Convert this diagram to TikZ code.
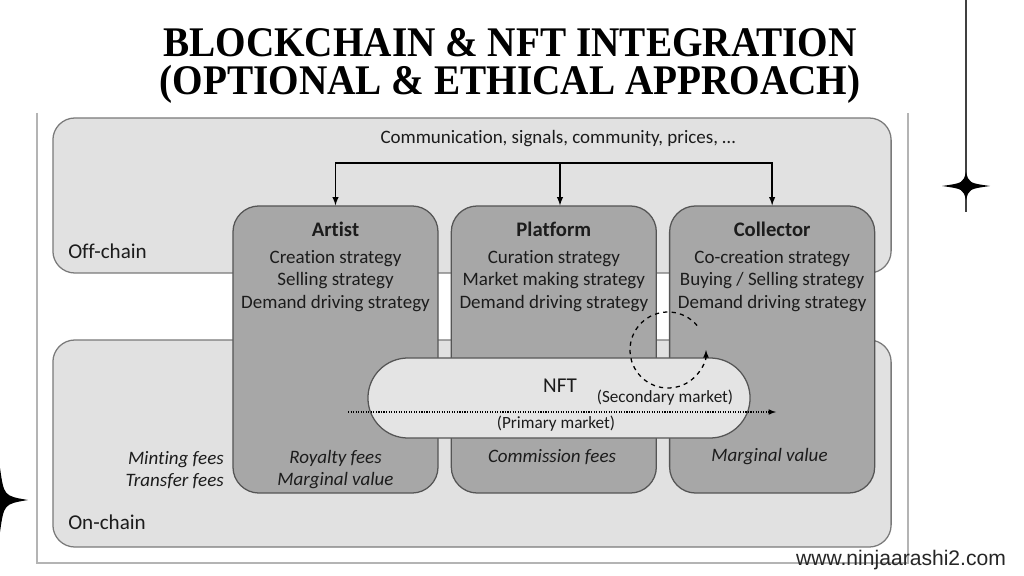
\documentclass[tikz,border=0pt]{standalone}
\usepackage{fontspec}
\setmainfont[Ligatures=NoCommon]{Carlito}
\newfontfamily\titlefont[FakeStretch=0.93]{Liberation Serif}
\newfontfamily\webfont{Liberation Sans}
\usetikzlibrary{positioning,arrows}

\definecolor{chainfill}{HTML}{E1E1E1}
\definecolor{chainline}{HTML}{7A7A7A}
\definecolor{rolefill}{HTML}{A7A7A7}
\definecolor{roleline}{HTML}{555555}
\definecolor{pillfill}{HTML}{E4E4E4}
\definecolor{frameline}{HTML}{B4B4B4}
\definecolor{ink}{HTML}{1C1C1C}

\begin{document}
\begin{tikzpicture}[
x=0.025cm,
y=-0.025cm,
chain/.style={
  draw=chainline,
  fill=chainfill,
  line width=0.9pt,
  rounded corners=0.55cm,
  minimum width=20.95cm
  },
role/.style={
  draw=roleline,
  fill=rolefill,
  line width=0.9pt,
  rounded corners=0.65cm,
  minimum width=5.125cm,
  minimum height=7.175cm
  },
txt/.style={
  text=ink,
  align=center,
  inner sep=0pt,
  font=\fontsize{13.5}{16}\selectfont
  },
fees/.style={
  txt,
  font=\fontsize{13.5}{15.6}\selectfont\itshape
  },
headline/.style={
  font=\titlefont\bfseries\fontsize{30}{30}\selectfont,
  anchor=base,
  inner sep=0pt
  },
>=latex
]

\fill[white] (0,0) rectangle (1024,576);
\useasboundingbox (0,0) rectangle (1024,576);

% title
\node[headline] (title1) at (510,57) {BLOCKCHAIN \& NFT INTEGRATION};
\node[headline] (title2) at (510,95) {(OPTIONAL \& ETHICAL APPROACH)};

% frame
\draw[frameline, line width=0.8pt] (37,113) -- (37,563) -- (908,563) -- (908,113);

\node[chain, minimum height=3.875cm] (offchain) at (472,195.5) {};
\node[chain, minimum height=5.175cm] (onchain) at (472,443.5) {};
\node[txt, anchor=west, font=\fontsize{15}{18}\selectfont] (offlabel) at (68,251) {Off-chain};
\node[txt, anchor=west, font=\fontsize{15}{18}\selectfont] (onlabel) at (68,522) {On-chain};
\node[txt] (comm) at (558,139) {Communication, signals, community, prices, …};

% actors
\node[role] (artist) at (335.5,349.5) {};
\node[role, right=0.3cm of artist] (platform) {};
\node[role, right=0.3cm of platform] (collector) {};

\node[txt, anchor=north] (artisttxt) at ([yshift=-0.41cm]artist.north)
  {{\bfseries\fontsize{14.7}{16}\selectfont Artist}\\[3pt]
   Creation strategy\\ Selling strategy\\ Demand driving strategy};
\node[txt, anchor=north] (platformtxt) at ([yshift=-0.41cm]platform.north)
  {{\bfseries\fontsize{14.7}{16}\selectfont Platform}\\[3pt]
   Curation strategy\\ Market making strategy\\ Demand driving strategy};
\node[txt, anchor=north] (collectortxt) at ([yshift=-0.41cm]collector.north)
  {{\bfseries\fontsize{14.7}{16}\selectfont Collector}\\[3pt]
   Co-creation strategy\\ Buying / Selling strategy\\ Demand driving strategy};

\node[fees] (artistfees) at (335.5,470) {Royalty fees\\Marginal value};
\node[fees] (platformfees) at (552,457) {Commission fees};
\node[fees] (collectorfees) at (769.5,457) {Marginal value};
\node[fees, anchor=east, align=right] (chainfees) at (224,470) {Minting fees\\Transfer fees};

% nft
\node[draw=roleline, fill=pillfill, line width=0.9pt, minimum width=9.55cm,
  minimum height=2cm, rounded corners=1cm] (nft) at (559,398) {};
\node[txt, font=\fontsize{15}{15}\selectfont] (nftlabel) at (560,386) {NFT};
\node[txt, font=\fontsize{12.2}{14}\selectfont] (secondary) at (665,398) {(Secondary market)};
\node[txt, font=\fontsize{12.2}{14}\selectfont] (primary) at (556,424) {(Primary market)};

\coordinate (mktstart) at (348,412);
\coordinate (mktend) at (776,412);
\draw[->, densely dotted, line width=0.8pt] (mktstart) -- (mktend);

\coordinate (loop) at (668,350);
\draw[->, dashed, line width=0.9pt] (loop) ++(40:0.95cm)
  arc[start angle=40, end angle=360, radius=0.95cm];

% communication
\coordinate (split) at (560,163);
\foreach \who in {artist,collector}
  \draw[->, line width=1pt] (split) -| (\who.north);
\draw[->, line width=1pt] (split) -- (split |- platform.north);

% decoration
\draw[black!75, line width=0.8pt] (966,0) -- (966,212);
\fill (966,172) .. controls (969,183) .. (990,186) .. controls (969,189) .. (966,200)
  .. controls (963,189) .. (942,186) .. controls (963,183) .. cycle;
\fill (0,468) .. controls (4,496) .. (28,500) .. controls (4,504) .. (0,532)
  .. controls (-4,504) .. (-28,500) .. controls (-4,496) .. cycle;

\node[font=\webfont\fontsize{15}{18}\selectfont, text=black!85, anchor=base] (web)
  at (901,565) {www.ninjaarashi2.com};
\end{tikzpicture}
\end{document}
